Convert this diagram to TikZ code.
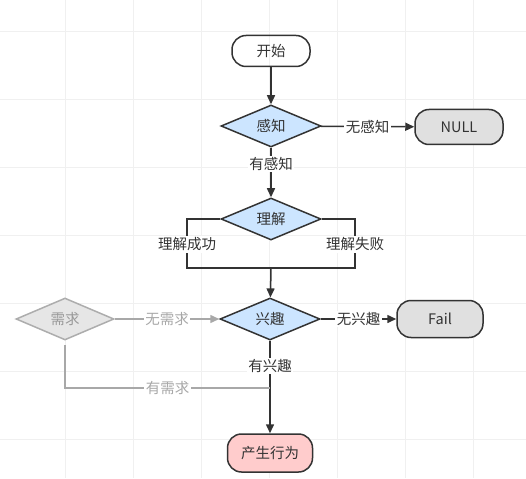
\documentclass[tikz,border=0pt]{standalone}
\usepackage{fontspec}
\newfontfamily\cjk{Noto Sans CJK SC}
\usepackage{tikz}
\usetikzlibrary{positioning,arrows.meta,shapes.geometric}
\definecolor{inkgray}{RGB}{51,51,51}
\definecolor{softgray}{RGB}{153,153,153}
\definecolor{qblue}{RGB}{204,229,255}
\definecolor{pillgray}{RGB}{224,224,224}
\definecolor{pillpink}{RGB}{255,204,204}
\definecolor{gridgray}{RGB}{240,240,240}

\begin{document}
\begin{tikzpicture}[
  x=1pt,y=-1pt,
  font=\cjk\fontsize{14.5}{17}\selectfont,
  pill/.style={rectangle,rounded corners=14pt,draw=inkgray,line width=1.5pt,
               text=inkgray,minimum height=33pt,inner sep=0pt},
  quest/.style={diamond,aspect=2.4,draw=inkgray,line width=1.5pt,fill=qblue,
                text=inkgray,minimum width=100pt,minimum height=42pt,inner sep=0pt},
  faded/.style={draw=softgray!80,fill=pillgray!80,text=softgray},
  flow/.style={draw=inkgray,line width=1.5pt,-{Triangle[length=9pt,width=8pt]}},
  link/.style={draw=inkgray,line width=1.5pt},
  dim/.style={draw=softgray!85,line width=1.5pt,-{Triangle[length=9pt,width=8pt]}},
  tag/.style={fill=white,text=inkgray,inner sep=1.5pt},
  dimtag/.style={fill=white,text=softgray!85,inner sep=1.5pt},
  gridline/.style={draw=gridgray,line width=0.6pt}
]
\useasboundingbox (0,0) rectangle (526,478);
\foreach \gx in {65,133,201,269,337,405,473} {\draw[gridline] (\gx,0) -- (\gx,478);}
\foreach \gy in {31,99,167,235,303,371,439} {\draw[gridline] (0,\gy) -- (526,\gy);}

\node[pill,minimum width=78pt,minimum height=31pt] (start) at (271,51) {开始};
\node[quest] (perc) at (271,126) {感知};
\node[pill,fill=pillgray,minimum width=88pt,minimum height=35pt] (null) at (459,127) {NULL};
\node[quest] (und) at (271,219) {理解};
\node[quest] (int) at (270,319) {兴趣};
\node[pill,fill=pillgray,minimum width=86pt,minimum height=37pt] (fail) at (440,319) {Fail};
\node[quest,faded,minimum width=98pt] (need) at (65,319) {需求};
\node[pill,fill=pillpink,minimum width=85pt,minimum height=38pt] (act) at (270,453) {产生行为};

\coordinate (lt) at (187,268);
\coordinate (rt) at (355,268);
\coordinate (merge) at (271,268);
\coordinate (needjoin) at (270,388);

\draw[flow] (start) -- (perc);
\draw[flow] (perc) -- node[tag] {无感知} (null);
\draw[flow] (perc) -- node[tag,pos=0.33] {有感知} (und);
\draw[link] (und.west) -| node[tag,pos=0.76] {理解成功} (lt) -- (merge);
\draw[link] (und.east) -| node[tag,pos=0.76] {理解失败} (rt) -- (merge);
\draw[flow] (merge) -- (int);
\draw[flow] (int) -- node[tag,pos=0.5] {无兴趣} (fail);
\draw[flow] (int) -- node[tag,pos=0.27] {有兴趣} (act);
\draw[dim] (need) -- node[dimtag] {无需求} (int);
\draw[draw=softgray!85,line width=1.5pt,shorten <=4pt] (need.south) |- node[dimtag,pos=0.75] {有需求} (needjoin);
\end{tikzpicture}
\end{document}
